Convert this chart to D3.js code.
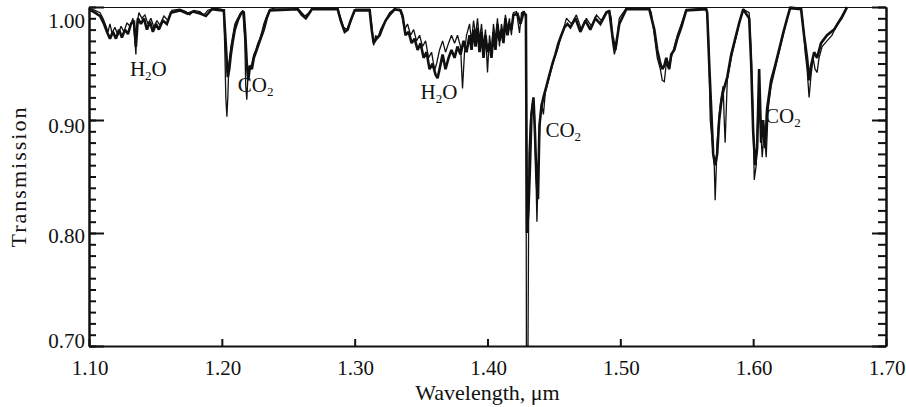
<!DOCTYPE html>
<html><head><meta charset="utf-8">
<script src="https://cdn.jsdelivr.net/npm/d3@7"></script>
<style>body{margin:0;background:#fff}svg{display:block}</style>
</head><body>
<svg id="chart" width="906" height="407"></svg>
<script>
// ---- data ----
const wavelengthA = [1.1000,1.1045,1.1083,1.1105,1.1128,1.1143,1.1158,1.1173,1.1195,1.1218,1.1241,1.1263,1.1286,1.1308,1.1331,1.1346,1.1353,1.1361,1.1376,1.1398,1.1421,1.1444,1.1466,1.1489,1.1511,1.1534,1.1564,1.1594,1.1624,1.1684,1.1729,1.1759,1.1789,1.1835,1.1865,1.1895,1.1947,1.2000,1.2015,1.2023,1.2030,1.2038,1.2045,1.2053,1.2068,1.2083,1.2098,1.2120,1.2143,1.2158,1.2173,1.2180,1.2188,1.2195,1.2211,1.2226,1.2241,1.2256,1.2271,1.2286,1.2301,1.2316,1.2338,1.2361,1.2398,1.2571,1.2602,1.2624,1.2647,1.2677,1.2872,1.2895,1.2917,1.2940,1.2962,1.2985,1.3008,1.3113,1.3128,1.3143,1.3158,1.3173,1.3195,1.3218,1.3241,1.3263,1.3286,1.3338,1.3361,1.3376,1.3398,1.3421,1.3444,1.3466,1.3489,1.3511,1.3534,1.3556,1.3579,1.3602,1.3617,1.3639,1.3662,1.3684,1.3707,1.3729,1.3752,1.3774,1.3797,1.3812,1.3827,1.3842,1.3865,1.3880,1.3895,1.3910,1.3925,1.3940,1.3955,1.3970,1.3985,1.4000,1.4015,1.4030,1.4045,1.4060,1.4075,1.4090,1.4105,1.4120,1.4135,1.4150,1.4165,1.4180,1.4195,1.4218,1.4241,1.4256,1.4278,1.4289,1.4293,1.4305,1.4312,1.4323,1.4338,1.4353,1.4365,1.4372,1.4383,1.4395,1.4406,1.4421,1.4436,1.4459,1.4481,1.4504,1.4526,1.4549,1.4571,1.4594,1.4632,1.4669,1.4707,1.4744,1.4782,1.4820,1.4857,1.4895,1.4917,1.4932,1.4940,1.4955,1.4970,1.4992,1.5045,1.5218,1.5233,1.5256,1.5278,1.5301,1.5316,1.5331,1.5346,1.5368,1.5383,1.5406,1.5429,1.5459,1.5496,1.5647,1.5662,1.5677,1.5692,1.5707,1.5714,1.5729,1.5744,1.5759,1.5774,1.5782,1.5789,1.5805,1.5835,1.5865,1.5895,1.5925,1.5970,1.5985,1.6000,1.6008,1.6023,1.6038,1.6053,1.6068,1.6083,1.6098,1.6113,1.6135,1.6165,1.6195,1.6226,1.6256,1.6278,1.6361,1.6376,1.6391,1.6406,1.6421,1.6436,1.6451,1.6466,1.6481,1.6496,1.6519,1.6556,1.6594,1.6632,1.6669,1.6707];
const transmissionA = [0.999,0.997,0.995,0.990,0.983,0.978,0.985,0.977,0.982,0.975,0.983,0.978,0.986,0.983,0.990,0.970,0.958,0.985,0.995,0.990,0.993,0.985,0.990,0.982,0.988,0.984,0.992,0.988,0.997,0.998,0.996,0.993,0.997,0.996,0.993,0.997,0.999,0.998,0.995,0.960,0.920,0.903,0.920,0.950,0.965,0.975,0.985,0.990,0.995,0.997,0.970,0.930,0.918,0.935,0.945,0.950,0.958,0.962,0.968,0.972,0.978,0.985,0.992,0.998,0.999,0.999,0.995,0.992,0.994,0.998,0.999,0.990,0.982,0.980,0.985,0.992,0.998,0.998,0.985,0.966,0.975,0.972,0.980,0.985,0.990,0.995,0.997,0.998,0.990,0.980,0.985,0.975,0.980,0.970,0.975,0.965,0.970,0.955,0.960,0.944,0.950,0.962,0.970,0.960,0.968,0.975,0.968,0.975,0.965,0.928,0.960,0.975,0.985,0.970,0.988,0.975,0.990,0.970,0.985,0.965,0.980,0.942,0.975,0.960,0.985,0.970,0.990,0.965,0.985,0.975,0.993,0.980,0.990,0.975,0.995,0.996,0.977,0.995,0.996,0.990,0.700,0.700,0.870,0.900,0.915,0.905,0.850,0.810,0.860,0.900,0.915,0.905,0.925,0.935,0.945,0.955,0.962,0.972,0.980,0.990,0.985,0.993,0.980,0.990,0.983,0.993,0.988,0.996,0.997,0.990,0.970,0.958,0.965,0.990,0.999,0.999,0.995,0.975,0.955,0.945,0.935,0.934,0.950,0.945,0.955,0.965,0.975,0.985,0.998,0.999,0.980,0.900,0.880,0.860,0.829,0.880,0.905,0.920,0.930,0.900,0.880,0.935,0.955,0.970,0.985,0.998,0.995,0.960,0.900,0.847,0.860,0.920,0.900,0.867,0.890,0.867,0.910,0.930,0.945,0.960,0.975,0.990,1.000,0.999,0.985,0.960,0.945,0.920,0.940,0.955,0.945,0.942,0.955,0.965,0.970,0.975,0.985,0.990,0.999];

const wavelengthB = [1.1000,1.1045,1.1083,1.1113,1.1135,1.1158,1.1180,1.1203,1.1226,1.1248,1.1271,1.1293,1.1316,1.1338,1.1353,1.1368,1.1391,1.1414,1.1436,1.1459,1.1481,1.1504,1.1526,1.1556,1.1586,1.1617,1.1684,1.1744,1.1782,1.1842,1.1880,1.1925,1.2000,1.2015,1.2026,1.2038,1.2045,1.2056,1.2068,1.2083,1.2098,1.2120,1.2143,1.2165,1.2177,1.2188,1.2199,1.2211,1.2226,1.2241,1.2256,1.2271,1.2286,1.2301,1.2316,1.2338,1.2361,1.2571,1.2602,1.2632,1.2662,1.2677,1.2872,1.2895,1.2925,1.2947,1.2970,1.3000,1.3113,1.3128,1.3143,1.3165,1.3188,1.3211,1.3233,1.3263,1.3301,1.3346,1.3361,1.3383,1.3406,1.3429,1.3451,1.3474,1.3496,1.3519,1.3541,1.3564,1.3586,1.3609,1.3624,1.3639,1.3662,1.3684,1.3707,1.3729,1.3752,1.3774,1.3797,1.3820,1.3842,1.3865,1.3880,1.3895,1.3910,1.3925,1.3940,1.3955,1.3970,1.3985,1.4000,1.4015,1.4030,1.4045,1.4060,1.4075,1.4090,1.4105,1.4120,1.4135,1.4150,1.4165,1.4180,1.4195,1.4226,1.4248,1.4271,1.4289,1.4297,1.4308,1.4320,1.4331,1.4346,1.4357,1.4368,1.4380,1.4391,1.4406,1.4421,1.4444,1.4466,1.4489,1.4511,1.4534,1.4556,1.4579,1.4602,1.4624,1.4662,1.4699,1.4737,1.4774,1.4812,1.4850,1.4895,1.4917,1.4940,1.4962,1.4992,1.5045,1.5218,1.5256,1.5278,1.5301,1.5316,1.5331,1.5346,1.5368,1.5383,1.5406,1.5429,1.5459,1.5496,1.5647,1.5654,1.5669,1.5684,1.5699,1.5714,1.5729,1.5744,1.5759,1.5774,1.5805,1.5835,1.5865,1.5895,1.5925,1.5970,1.5985,1.6000,1.6015,1.6030,1.6045,1.6060,1.6075,1.6090,1.6105,1.6135,1.6165,1.6195,1.6226,1.6256,1.6278,1.6361,1.6383,1.6406,1.6421,1.6436,1.6459,1.6481,1.6511,1.6556,1.6609,1.6662,1.6707];
const transmissionB = [0.998,0.995,0.992,0.985,0.978,0.972,0.978,0.972,0.980,0.973,0.980,0.976,0.985,0.988,0.965,0.990,0.985,0.990,0.980,0.987,0.978,0.985,0.980,0.988,0.985,0.995,0.997,0.994,0.996,0.994,0.992,0.998,0.997,0.997,0.975,0.950,0.938,0.945,0.958,0.970,0.980,0.988,0.994,0.996,0.975,0.950,0.935,0.948,0.945,0.955,0.960,0.965,0.970,0.975,0.980,0.990,0.997,0.998,0.993,0.990,0.995,0.998,0.998,0.988,0.978,0.980,0.988,0.997,0.997,0.980,0.968,0.972,0.975,0.982,0.988,0.993,0.998,0.997,0.992,0.975,0.978,0.968,0.972,0.962,0.968,0.955,0.960,0.945,0.950,0.940,0.937,0.945,0.958,0.945,0.955,0.962,0.955,0.965,0.958,0.970,0.960,0.975,0.962,0.980,0.965,0.982,0.960,0.978,0.955,0.975,0.960,0.968,0.955,0.978,0.962,0.985,0.970,0.980,0.968,0.990,0.975,0.985,0.980,0.993,0.994,0.985,0.995,0.993,0.800,0.820,0.860,0.905,0.920,0.890,0.850,0.830,0.895,0.912,0.920,0.930,0.940,0.950,0.958,0.968,0.975,0.982,0.985,0.982,0.990,0.978,0.988,0.980,0.990,0.985,0.995,0.996,0.975,0.962,0.985,0.998,0.998,0.980,0.962,0.950,0.945,0.948,0.955,0.945,0.958,0.962,0.972,0.982,0.997,0.998,0.995,0.950,0.910,0.870,0.860,0.870,0.900,0.915,0.925,0.938,0.958,0.972,0.986,0.998,0.990,0.950,0.890,0.860,0.875,0.945,0.880,0.900,0.875,0.910,0.935,0.948,0.962,0.977,0.990,0.999,0.998,0.975,0.955,0.935,0.948,0.960,0.955,0.968,0.975,0.980,0.990,1.000];

const xTickValues = [1.10, 1.20, 1.30, 1.40, 1.50, 1.60, 1.70];
const xTickLabels = ["1.10", "1.20", "1.30", "1.40", "1.50", "1.60", "1.70"];
const yTickValues = [0.70, 0.80, 0.90, 1.00];
const yTickLabels = ["0.70", "0.80", "0.90", "1.00"];
const yLabelNudge = [-5, 3, 6, 14];

const annotationBase = ["H", "CO", "H", "CO", "CO"];
const annotationSub = ["2", "2", "2", "2", "2"];
const annotationTail = ["O", "", "O", "", ""];
const annotationWl = [1.1308, 1.2120, 1.3496, 1.4436, 1.6090];
const annotationT = [0.939, 0.925, 0.919, 0.885, 0.897];

const xTitle = "Wavelength, \u03bcm";
const yTitle = "Transmission";

// ---- layout ----
const W = 906, H = 407;
const m = {left: 89, right: 20, top: 7, bottom: 61};
const x = d3.scaleLinear().domain([1.10, 1.70]).range([m.left, W - m.right]);
const y = d3.scaleLinear().domain([0.70, 1.00]).range([H - m.bottom, m.top]);
const ink = "#111";
const font = "'Liberation Serif', 'Times New Roman', serif";

const svg = d3.select("#chart");
svg.append("rect").attr("width", W).attr("height", H).attr("fill", "#fff");

svg.append("defs").append("clipPath").attr("id", "plotclip")
  .append("rect").attr("x", m.left).attr("y", m.top - 2)
  .attr("width", W - m.left - m.right).attr("height", H - m.top - m.bottom + 2);

const seriesA = wavelengthA.map((w, i) => [w, transmissionA[i]]);
const seriesB = wavelengthB.map((w, i) => [w, transmissionB[i]]);
const line = d3.line().x(d => x(d[0])).y(d => y(d[1])).curve(d3.curveLinear);

const plot = svg.append("g").attr("clip-path", "url(#plotclip)");
plot.append("path").datum(seriesB).attr("d", line)
  .attr("fill", "none").attr("stroke", ink).attr("stroke-width", 2.6)
  .attr("stroke-linejoin", "miter").attr("stroke-miterlimit", 2);
plot.append("path").datum(seriesA).attr("d", line)
  .attr("fill", "none").attr("stroke", ink).attr("stroke-width", 1.3)
  .attr("stroke-linejoin", "miter").attr("stroke-miterlimit", 2);

// ---- axes ----
function styleAxis(g) {
  g.selectAll("path.domain").attr("stroke", ink).attr("stroke-width", 2);
  g.selectAll(".tick line").attr("stroke", ink).attr("stroke-width", 2);
  g.selectAll(".tick text").remove();
}
const minorY = y.ticks(30);
svg.append("g").attr("transform", `translate(${m.left},0)`)
  .call(d3.axisLeft(y).tickValues(minorY).tickSize(-7).tickSizeOuter(0).tickFormat(""))
  .call(styleAxis);
svg.append("g").attr("transform", `translate(${m.left},0)`)
  .call(d3.axisLeft(y).tickValues(yTickValues).tickSize(-15).tickSizeOuter(0).tickFormat(""))
  .call(styleAxis);
svg.append("g").attr("transform", `translate(${W - m.right},0)`)
  .call(d3.axisRight(y).tickValues(minorY).tickSize(-8).tickSizeOuter(0).tickFormat(""))
  .call(styleAxis);
svg.append("g").attr("transform", `translate(${W - m.right},0)`)
  .call(d3.axisRight(y).tickValues(yTickValues).tickSize(-14).tickSizeOuter(0).tickFormat(""))
  .call(styleAxis);
svg.append("g").attr("transform", `translate(0,${H - m.bottom})`)
  .call(d3.axisBottom(x).tickValues(xTickValues).tickSize(-7).tickSizeOuter(0).tickFormat(""))
  .call(styleAxis);
svg.append("g").attr("transform", `translate(0,${m.top})`)
  .call(d3.axisTop(x).tickValues([]).tickSizeOuter(0))
  .call(g => g.selectAll("path.domain").attr("stroke", ink).attr("stroke-width", 1.2));

// tick labels
svg.append("g").selectAll("text").data(yTickValues).join("text")
  .attr("x", m.left - 4).attr("y", (d, i) => y(d) + yLabelNudge[i])
  .attr("dy", "0.35em").attr("text-anchor", "end")
  .attr("font-family", font).attr("font-size", 21).attr("fill", ink)
  .text((d, i) => yTickLabels[i]);
svg.append("g").selectAll("text").data(xTickValues).join("text")
  .attr("x", d => x(d) + 1).attr("y", H - m.bottom + 29)
  .attr("text-anchor", "middle")
  .attr("font-family", font).attr("font-size", 21).attr("fill", ink)
  .text((d, i) => xTickLabels[i]);

// titles
svg.append("text").attr("x", (m.left + W - m.right) / 2).attr("y", 400)
  .attr("text-anchor", "middle").attr("font-family", font).attr("font-size", 22).attr("fill", ink)
  .text(xTitle);
svg.append("text").attr("transform", `translate(26,${(m.top + H - m.bottom) / 2}) rotate(-90)`)
  .attr("text-anchor", "middle").attr("font-family", font).attr("font-size", 22)
  .attr("letter-spacing", 2).attr("fill", ink)
  .text(yTitle);

// annotations
annotationBase.forEach((b, i) => {
  const t = svg.append("text").attr("x", x(annotationWl[i])).attr("y", y(annotationT[i]))
    .attr("font-family", font).attr("font-size", 21).attr("fill", ink);
  t.append("tspan").text(b);
  t.append("tspan").attr("font-size", 13).attr("dy", 4).text(annotationSub[i]);
  if (annotationTail[i]) t.append("tspan").attr("dy", -4).text(annotationTail[i]);
});
</script>
</body></html>
